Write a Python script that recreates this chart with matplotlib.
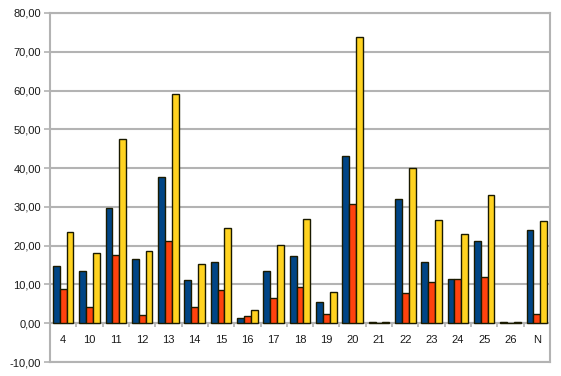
import numpy as np
import matplotlib
matplotlib.use('Agg')
import matplotlib.pyplot as plt
from matplotlib.ticker import FuncFormatter

plt.rcParams['font.family'] = ['Liberation Sans', 'DejaVu Sans']

categories = ['4', '10', '11', '12', '13', '14', '15', '16', '17', '18',
              '19', '20', '21', '22', '23', '24', '25', '26', 'N']
blue = [14.8, 13.5, 29.8, 16.6, 37.7, 11.2, 15.8, 1.4, 13.5, 17.4,
        5.6, 43.1, 0.4, 32.0, 15.7, 11.4, 21.2, 0.2, 24.0]
red = [8.8, 4.3, 17.6, 2.0, 21.2, 4.3, 8.6, 1.8, 6.6, 9.4,
       2.3, 30.7, 0.1, 7.9, 10.6, 11.4, 11.9, 0.1, 2.3]
yellow = [23.5, 18.2, 47.5, 18.7, 59.1, 15.3, 24.5, 3.3, 20.2, 26.9,
          8.1, 73.7, 0.4, 39.9, 26.6, 23.0, 33.0, 0.2, 26.4]

GRID = '#b3b3b3'

fig = plt.figure(figsize=(5.61, 3.76), dpi=100)
ax = fig.add_axes([50 / 561, 14 / 376, 500 / 561, 349 / 376])

x = np.arange(len(categories))
w = 0.26
edge = dict(edgecolor='#1a1a00', linewidth=1.0, zorder=3)
ax.bar(x - w, blue, w, color='#004586', **edge)
ax.bar(x, red, w, color='#ff420e', **edge)
ax.bar(x + w, yellow, w, color='#ffd320', **edge)

ax.set_xlim(-0.5, len(categories) - 0.5)
ax.set_ylim(-10, 80)
ax.set_yticks(np.arange(-10, 81, 10))
ax.yaxis.set_major_formatter(FuncFormatter(lambda v, p: f'{v:.2f}'.replace('.', ',')))
ax.tick_params(axis='y', length=4.5, width=1.2, color=GRID, labelsize=8, pad=2, labelcolor='#1a1a1a')
ax.set_xticks([])

ax.grid(axis='y', color=GRID, linewidth=1.5, zorder=0)
ax.set_axisbelow(True)
for s in ax.spines.values():
    s.set_color(GRID)
    s.set_linewidth(1.5)

# zero line and category separators
ax.axhline(0, color=GRID, linewidth=1.5, zorder=2)
ax.vlines(x[:-1] + 0.5, -0.9, 0, color=GRID, linewidth=1.2, zorder=2)
for i, c in enumerate(categories):
    ax.text(i, -4.3, c, ha='center', va='center', fontsize=8, color='#1a1a1a')

fig.savefig('out.png', dpi=100)
